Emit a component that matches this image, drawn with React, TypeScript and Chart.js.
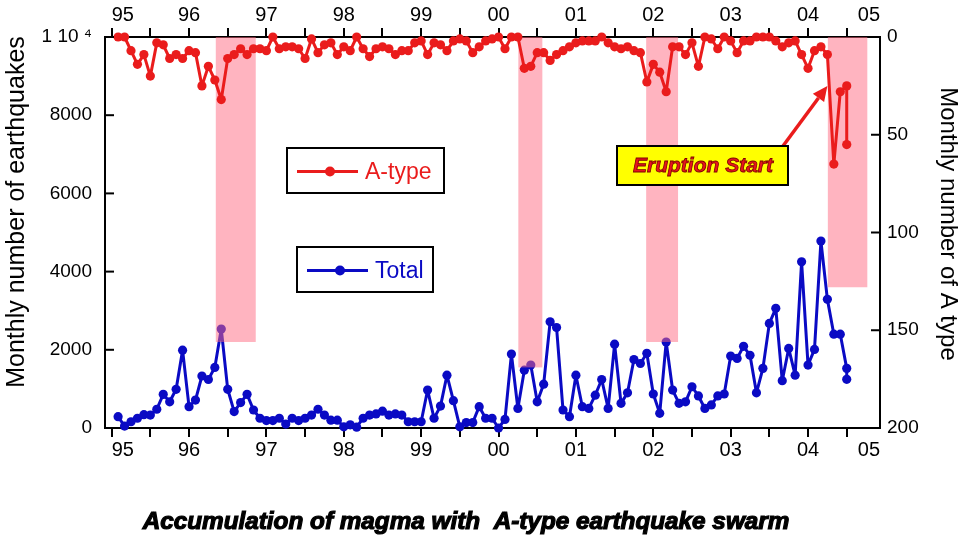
import { useEffect, useRef } from 'react';
import { Chart, registerables } from 'chart.js';

Chart.register(...registerables);

// ---------------- data ----------------
const START_YEAR = 1995;
const X_MIN = 1994.914;
const X_MAX = 2004.93;

const yearLabels = ['95', '96', '97', '98', '99', '00', '01', '02', '03', '04', '05'];

// Monthly number of earthquakes (Total), Jan 1995 ... Jun 2004 + partial Jul 2004
const total = [
  290, 50, 160, 250, 340, 330, 480, 860, 670, 990,
  1990, 545, 715, 1330, 1240, 1550, 2530, 990, 420, 650,
  860, 460, 250, 190, 190, 250, 100, 250, 190, 250,
  330, 480, 330, 200, 200, 30, 80, 20, 250, 330,
  360, 430, 330, 360, 330, 160, 160, 160, 970, 250,
  560, 1350, 700, 30, 140, 140, 545, 250, 250, 0,
  220, 1890, 500, 1480, 1610, 670, 1120, 2715, 2570, 460,
  290, 1350, 545, 500, 840, 1240, 500, 2145, 630, 900,
  1750, 1650, 1910, 870, 375, 2200, 970, 630, 670, 1055,
  820, 500, 590, 820, 870, 1840, 1780, 2090, 1860, 900,
  1525, 2675, 3060, 1210, 2035, 1350, 4250, 1610, 2010, 4780,
  3290, 2400, 2400, 1525, 1245,
];

// Monthly number of A-type earthquakes (right axis, reversed)
const atype = [
  0, 0, 7, 14, 9, 20, 3, 4, 11, 9,
  11, 7, 8, 25, 15, 22, 32, 11, 9, 6,
  9, 6, 6, 7, 0, 6, 5, 5, 6, 11,
  1, 8, 4, 3, 9, 5, 7, 0, 6, 10,
  6, 5, 6, 9, 7, 7, 3, 2, 9, 3,
  4, 7, 2, 1, 2, 8, 5, 2, 1, 0,
  6, 0, 0, 16, 15, 8, 8, 12, 9, 7,
  5, 3, 2, 2, 2, 0, 3, 5, 6, 5,
  7, 8, 23, 14, 18, 28, 5, 5, 9, 3,
  15, 0, 1, 6, 0, 2, 8, 2, 2, 0,
  0, 0, 2, 5, 3, 2, 9, 16, 7, 5,
  9, 65, 28, 25, 55,
];

const leftTicks = [0, 2000, 4000, 6000, 8000, 10000];
const rightTicks = [0, 50, 100, 150, 200];

// A-type swarm periods (shaded), depth in A-type units
const shadeFrom = [1996.346, 2000.256, 2001.908, 2004.256];
const shadeTo = [1996.862, 2000.566, 2002.32, 2004.766];
const shadeDepth = [156, 169, 156, 128];

const eruptionYear = 2004.25;
const eruptionLevel = 25;

const leftTitle = 'Monthly number of earthquakes';
const rightTitle = 'Monthly number of A type';

// --------------- styles ---------------
const FONT = '"Liberation Sans", Arial, Helvetica, sans-serif';
const RED = '#ea1c1c';
const BLUE = '#0a0ac4';
const PINK = 'rgba(255,105,130,0.5)';

// the last (partial) month is plotted at the same date as the month before
const monthPos = total.map((_, i) => START_YEAR + (Math.min(i, 113) + 1) / 12);

const xTickValues: number[] = [];
yearLabels.slice(0, -1).forEach((_, k) => {
  xTickValues.push(START_YEAR + k, START_YEAR + k + 0.5);
});
xTickValues.push(X_MAX);

const xLabel = (v: number) => {
  if (v === X_MAX) return yearLabels[yearLabels.length - 1];
  if (Number.isInteger(v)) return yearLabels[v - START_YEAR] ?? '';
  return '';
};

function drawLegendBox(ctx: CanvasRenderingContext2D, bx: number, by: number, bw: number, bh: number, color: string, label: string) {
  ctx.fillStyle = '#fff';
  ctx.fillRect(bx, by, bw, bh);
  ctx.strokeStyle = '#000';
  ctx.lineWidth = 2;
  ctx.strokeRect(bx, by, bw, bh);
  const cy = by + bh / 2 + 1;
  ctx.strokeStyle = color;
  ctx.lineWidth = 3;
  ctx.beginPath();
  ctx.moveTo(bx + 10, cy);
  ctx.lineTo(bx + 71, cy);
  ctx.stroke();
  ctx.fillStyle = color;
  ctx.beginPath();
  ctx.arc(bx + 43, cy, 5, 0, Math.PI * 2);
  ctx.fill();
  ctx.font = `23px ${FONT}`;
  ctx.textAlign = 'left';
  ctx.textBaseline = 'middle';
  ctx.fillText(label, bx + 78, cy + 1);
}

function drawRotated(ctx: CanvasRenderingContext2D, text: string, x: number, y: number, angle: number, size: number) {
  ctx.save();
  ctx.translate(x, y);
  ctx.rotate(angle);
  ctx.font = `${size}px ${FONT}`;
  ctx.fillStyle = '#000';
  ctx.textAlign = 'center';
  ctx.textBaseline = 'middle';
  ctx.fillText(text, 0, 0);
  ctx.restore();
}

const shadePlugin = {
  id: 'shade',
  afterDatasetDraw(chart: any, args: any) {
    if (args.index !== 1) return;
    const { ctx, chartArea, scales } = chart;
    ctx.save();
    ctx.fillStyle = PINK;
    shadeFrom.forEach((from, k) => {
      const x0 = scales.x.getPixelForValue(from);
      const x1 = scales.x.getPixelForValue(shadeTo[k]);
      const y1 = scales.y1.getPixelForValue(shadeDepth[k]);
      ctx.fillRect(x0, chartArea.top, x1 - x0, y1 - chartArea.top);
    });
    ctx.restore();
  },
};

const annotationPlugin = {
  id: 'annot',
  afterDraw(chart: any) {
    const { ctx, chartArea: a, scales } = chart;
    ctx.save();
    // inward y ticks
    ctx.strokeStyle = '#000';
    ctx.lineWidth = 2;
    leftTicks.forEach((v) => {
      const y = scales.y.getPixelForValue(v);
      ctx.beginPath();
      ctx.moveTo(a.left, y);
      ctx.lineTo(a.left + 9, y);
      ctx.stroke();
    });
    rightTicks.forEach((v) => {
      const y = scales.y1.getPixelForValue(v);
      ctx.beginPath();
      ctx.moveTo(a.right, y);
      ctx.lineTo(a.right - 9, y);
      ctx.stroke();
    });

    // axis titles
    drawRotated(ctx, leftTitle, 17, 212, -Math.PI / 2, 25);
    drawRotated(ctx, rightTitle, 948, 224, Math.PI / 2, 24);

    // legends
    drawLegendBox(ctx, 287, 148, 157, 45, RED, 'A-type');
    drawLegendBox(ctx, 297, 247, 136, 45, BLUE, 'Total');

    // arrow
    const tipX = scales.x.getPixelForValue(eruptionYear);
    const tipY = scales.y1.getPixelForValue(eruptionLevel);
    const tailX = 783;
    const tailY = 146;
    const ang = Math.atan2(tipY - tailY, tipX - tailX);
    const headL = 15;
    const headW = 7;
    const bx = tipX - headL * Math.cos(ang);
    const by = tipY - headL * Math.sin(ang);
    ctx.strokeStyle = RED;
    ctx.lineWidth = 3.5;
    ctx.beginPath();
    ctx.moveTo(tailX, tailY);
    ctx.lineTo(bx, by);
    ctx.stroke();
    ctx.fillStyle = RED;
    ctx.beginPath();
    ctx.moveTo(tipX, tipY);
    ctx.lineTo(bx + headW * Math.sin(ang), by - headW * Math.cos(ang));
    ctx.lineTo(bx - headW * Math.sin(ang), by + headW * Math.cos(ang));
    ctx.closePath();
    ctx.fill();

    // eruption box
    ctx.fillStyle = '#ffff00';
    ctx.fillRect(617, 146, 171, 39);
    ctx.strokeStyle = '#000';
    ctx.lineWidth = 2;
    ctx.strokeRect(617, 146, 171, 39);
    let size = 20;
    ctx.font = `italic bold ${size}px ${FONT}`;
    let w = ctx.measureText('Eruption Start').width;
    size = (size * 140) / w;
    ctx.font = `italic bold ${size}px ${FONT}`;
    ctx.textAlign = 'center';
    ctx.textBaseline = 'middle';
    ctx.fillStyle = '#e8141c';
    ctx.strokeStyle = '#7a0000';
    ctx.lineWidth = 0.8;
    ctx.fillText('Eruption Start', 703, 166);
    ctx.strokeText('Eruption Start', 703, 166);

    // caption
    const caption = 'Accumulation of magma with  A-type earthquake swarm';
    size = 24;
    ctx.font = `italic bold ${size}px ${FONT}`;
    w = ctx.measureText(caption).width;
    size = (size * 647) / w;
    ctx.font = `italic bold ${size}px ${FONT}`;
    ctx.fillStyle = '#000';
    ctx.strokeStyle = '#000';
    ctx.lineWidth = 1.2;
    ctx.fillText(caption, 466, 522);
    ctx.strokeText(caption, 466, 522);
    ctx.restore();
  },
};

export default function App() {
  const ref = useRef<HTMLCanvasElement | null>(null);

  useEffect(() => {
    if (!ref.current) return;
    const tickFont = { family: FONT, size: 20 };
    const xCommon = (position: 'top' | 'bottom', height: number) => ({
      type: 'linear' as const,
      axis: 'x' as const,
      position,
      min: X_MIN,
      max: X_MAX,
      afterBuildTicks: (s: any) => {
        s.ticks = xTickValues.map((value) => ({ value }));
      },
      afterFit: (s: any) => {
        s.height = height;
      },
      ticks: {
        autoSkip: false,
        maxRotation: 0,
        minRotation: 0,
        align: 'inner' as const,
        padding: 1,
        color: '#000',
        font: tickFont,
        callback: (v: any) => xLabel(Number(v)),
      },
      grid: {
        drawOnChartArea: false,
        drawTicks: true,
        tickLength: 9,
        lineWidth: 2,
        color: (c: any) => (c.tick && c.tick.value === X_MAX ? 'rgba(0,0,0,0)' : '#000'),
      },
      border: { display: true, color: '#000', width: 2 },
    });

    const lineStyle = {
      borderWidth: 3,
      pointRadius: 4.6,
      pointBorderWidth: 0,
      tension: 0,
      clip: false,
      borderJoinStyle: 'round' as const,
      borderCapStyle: 'round' as const,
    };

    const chart = new Chart(ref.current, {
      type: 'line',
      data: {
        datasets: [
          {
            label: 'A-type',
            data: atype.map((v, i) => ({ x: monthPos[i], y: v })),
            xAxisID: 'x',
            yAxisID: 'y1',
            borderColor: RED,
            backgroundColor: RED,
            pointBackgroundColor: RED,
            ...lineStyle,
          },
          {
            label: 'Total',
            data: total.map((v, i) => ({ x: monthPos[i], y: v })),
            xAxisID: 'x',
            yAxisID: 'y',
            borderColor: BLUE,
            backgroundColor: BLUE,
            pointBackgroundColor: BLUE,
            ...lineStyle,
          },
        ],
      },
      options: {
        responsive: false,
        maintainAspectRatio: false,
        animation: false,
        devicePixelRatio: 1,
        layout: { padding: 0 },
        plugins: { legend: { display: false }, tooltip: { enabled: false }, title: { display: false } },
        scales: {
          x: xCommon('bottom', 113),
          xTop: xCommon('top', 37),
          y: {
            type: 'linear',
            position: 'left',
            min: 0,
            max: 10000,
            afterBuildTicks: (s: any) => {
              s.ticks = leftTicks.map((value) => ({ value }));
            },
            afterFit: (s: any) => {
              s.width = 105;
            },
            ticks: {
              padding: 13,
              color: '#000',
              font: { family: FONT, size: 19 },
              callback: (v: any) => (Number(v) === 10000 ? '1 10 \u2074' : String(v)),
            },
            grid: { drawOnChartArea: false, drawTicks: false },
            border: { display: true, color: '#000', width: 2 },
          },
          y1: {
            type: 'linear',
            position: 'right',
            reverse: true,
            min: 0,
            max: 200,
            afterBuildTicks: (s: any) => {
              s.ticks = rightTicks.map((value) => ({ value }));
            },
            afterFit: (s: any) => {
              s.width = 82;
            },
            ticks: {
              padding: 7,
              color: '#000',
              font: { family: FONT, size: 19 },
            },
            grid: { drawOnChartArea: false, drawTicks: false },
            border: { display: true, color: '#000', width: 2 },
          },
        },
      },
      plugins: [shadePlugin, annotationPlugin],
    } as any);

    return () => chart.destroy();
  }, []);

  return (
    <div style={{ position: 'fixed', left: 0, top: 0, width: 962, height: 541, background: '#fff' }}>
      <canvas ref={ref} width={962} height={541} style={{ display: 'block', width: 962, height: 541 }} />
    </div>
  );
}
